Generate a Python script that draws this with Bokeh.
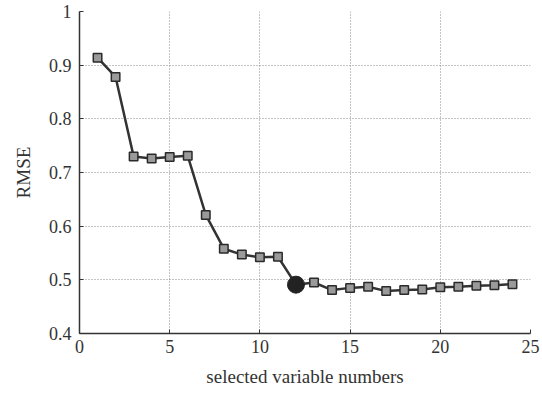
from bokeh.plotting import figure
from bokeh.models import Range1d, FixedTicker
from bokeh.embed import file_html
from bokeh.resources import INLINE

variable_numbers = list(range(1, 25))
rmse = [0.914, 0.878, 0.730, 0.726, 0.729, 0.731, 0.621, 0.558, 0.547, 0.542,
        0.543, 0.491, 0.495, 0.481, 0.485, 0.487, 0.479, 0.481, 0.482, 0.486,
        0.487, 0.489, 0.490, 0.492]
best_n = [12]
best_rmse = [0.491]
x_ticks = [0, 5, 10, 15, 20, 25]
y_ticks = [0.4, 0.5, 0.6, 0.7, 0.8, 0.9, 1.0]
y_tick_labels = {0.4: "0.4", 0.5: "0.5", 0.6: "0.6", 0.7: "0.7", 0.8: "0.8", 0.9: "0.9", 1.0: "1"}

FONT = "Liberation Serif"

p = figure(width=542, height=393, output_backend="svg", toolbar_location=None,
           x_range=Range1d(0, 25), y_range=Range1d(0.4, 1.0),
           min_border_left=79, min_border_right=12, min_border_top=11, min_border_bottom=60)

p.line(variable_numbers, rmse, line_color="#333333", line_width=2.5)
p.scatter(variable_numbers, rmse, marker="square", size=8.5, fill_color="#9a9a9a",
          line_color="#2a2a2a", line_width=1.5)
p.scatter(best_n, best_rmse, marker="circle", size=17, fill_color="#222222", line_color="#222222")

p.outline_line_color = None
p.background_fill_color = "white"
p.border_fill_color = "white"

p.xaxis.ticker = FixedTicker(ticks=x_ticks)
p.yaxis.ticker = FixedTicker(ticks=y_ticks)
p.yaxis.major_label_overrides = y_tick_labels

for ax in (p.xaxis, p.yaxis):
    ax.axis_line_color = "#333333"
    ax.axis_line_width = 1.5
    ax.major_tick_in = 4
    ax.major_tick_out = 0
    ax.minor_tick_line_color = None
    ax.major_tick_line_color = "#333333"
    ax.major_label_text_font = FONT
    ax.major_label_text_font_size = "18px"
    ax.major_label_text_color = "#333333"
    ax.axis_label_text_font = FONT
    ax.axis_label_text_font_size = "19px"
    ax.axis_label_text_font_style = "normal"
    ax.axis_label_text_color = "#333333"

p.xaxis.axis_label = "selected variable numbers"
p.yaxis.axis_label = "RMSE"
p.xaxis.major_label_standoff = 6
p.yaxis.major_label_standoff = 8
p.xaxis.axis_label_standoff = 10
p.yaxis.axis_label_standoff = 12

p.xgrid.grid_line_color = "#888888"
p.ygrid.grid_line_color = "#888888"
p.xgrid.grid_line_dash = "1 2"
p.ygrid.grid_line_dash = "1 2"
p.xgrid.grid_line_width = 1
p.ygrid.grid_line_width = 1

open("out.html", "w").write(file_html(p, INLINE))
